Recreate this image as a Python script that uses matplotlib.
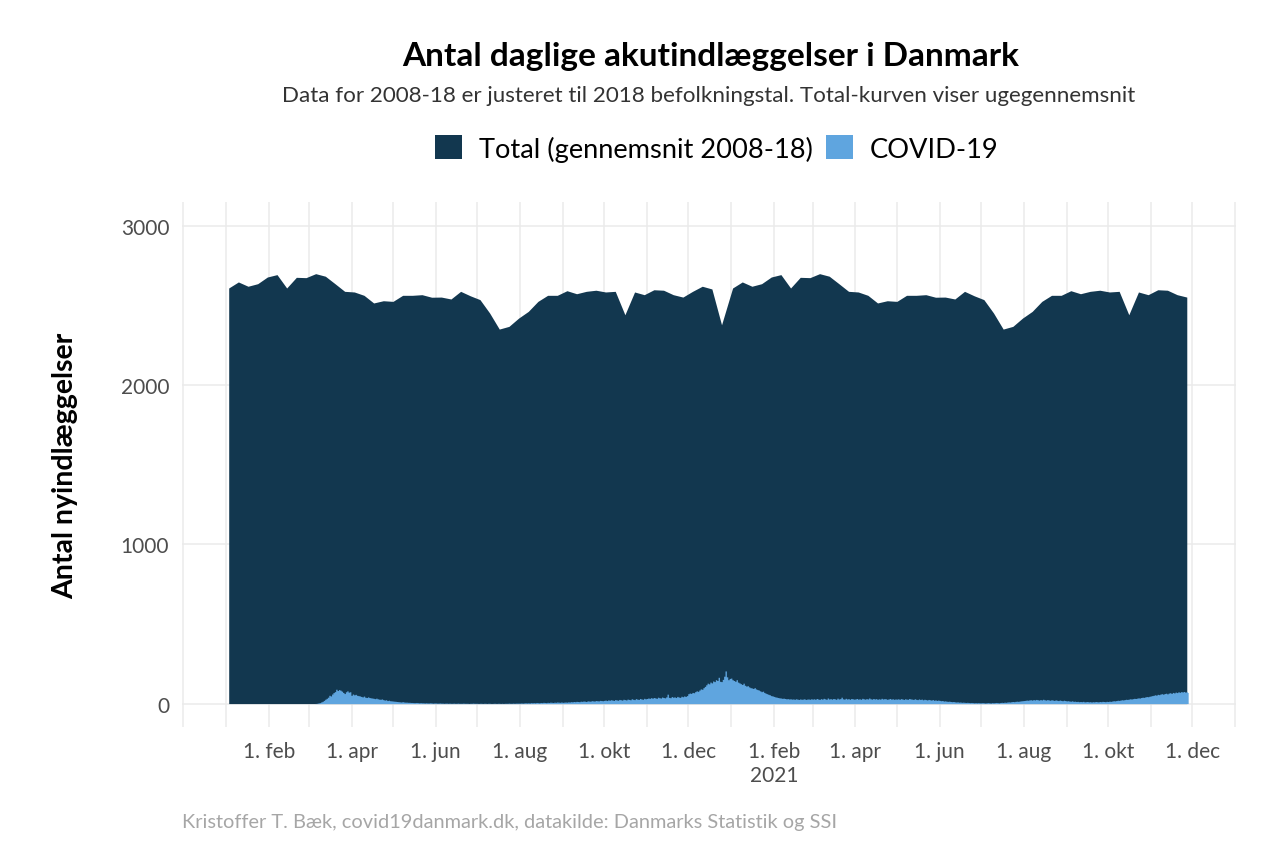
import datetime as dt
import numpy as np
import matplotlib
matplotlib.use("Agg")
import matplotlib.pyplot as plt
import matplotlib.dates as mdates
from matplotlib.patches import Patch

plt.rcParams['font.family'] = ['Lato', 'DejaVu Sans']

# weekly average of acute admissions 2008-18 (week 1..52)
total_weekly = [2610, 2648, 2621, 2637, 2679, 2694, 2610, 2677, 2675, 2700,
                2684, 2637, 2589, 2585, 2564, 2516, 2530, 2526, 2564, 2564,
                2568, 2552, 2553, 2541, 2589, 2561, 2537, 2453, 2352, 2369,
                2421, 2463, 2526, 2564, 2564, 2593, 2574, 2589, 2596, 2585,
                2589, 2442, 2585, 2568, 2599, 2596, 2568, 2553, 2589, 2621,
                2604, 2379]
weeks_2021 = 48

# daily COVID-19 admissions, 1 Mar 2020 - 31 Dec 2020
covid_2020 = [
    0, 0, 0, 0, 0, 1, 2, 4, 6, 10, 14, 20, 27, 33, 40, 52, 48, 60, 69, 75, 90, 82, 88, 84, 78, 70, 63, 74, 80, 72, 74,  # mar
    52, 60, 55, 58, 52, 50, 48, 45, 42, 47, 40, 38, 42, 38, 36, 35, 33, 31, 34, 30, 28, 27, 29, 25, 22, 24, 19, 21, 18, 17,  # apr
    16, 15, 14, 13, 12, 11, 10, 12, 10, 9, 9, 8, 8, 7, 7, 6, 6, 7, 6, 5, 6, 5, 5, 4, 5, 4, 4, 5, 4, 3, 4,  # maj
    4, 3, 3, 4, 3, 3, 2, 3, 3, 2, 3, 2, 2, 3, 2, 2, 3, 2, 2, 2, 3, 2, 2, 2, 1, 2, 2, 3, 2, 2,  # jun
    2, 1, 2, 2, 1, 2, 2, 1, 2, 2, 1, 1, 2, 2, 1, 2, 2, 1, 2, 1, 2, 2, 2, 3, 2, 2, 3, 2, 3, 3, 3,  # jul
    3, 4, 3, 4, 5, 4, 5, 4, 6, 5, 6, 5, 7, 6, 5, 7, 6, 8, 7, 6, 8, 7, 9, 8, 7, 9, 8, 10, 9, 8, 10,  # aug
    8, 9, 10, 9, 11, 10, 12, 11, 13, 12, 14, 13, 12, 15, 14, 16, 15, 13, 17, 16, 15, 18, 17, 16, 19, 18, 17, 20, 19, 18,  # sep
    20, 22, 19, 23, 21, 24, 22, 20, 25, 23, 21, 26, 24, 22, 27, 25, 23, 28, 26, 24, 30, 27, 25, 31, 28, 26, 32, 29, 27, 33, 30,  # okt
    32, 35, 33, 37, 34, 38, 36, 33, 40, 37, 35, 41, 38, 36, 42, 59, 39, 37, 44, 40, 42, 38, 45, 41, 39, 46, 43, 48, 45, 50,  # nov
    62, 66, 64, 70, 68, 75, 80, 77, 85, 92, 90, 100, 108, 118, 128, 124, 135, 130, 142, 138, 150, 145, 165, 140, 138, 152, 172, 205, 168, 150, 158,  # dec
]
# daily COVID-19 admissions, 1 Jan 2021 - 28 Nov 2021
covid_2021 = [
    160, 150, 145, 140, 150, 135, 130, 125, 120, 128, 115, 110, 112, 105, 100, 98, 95, 100, 92, 88, 85, 80, 75, 78, 70, 65, 62, 58, 55, 50, 48,  # jan
    45, 42, 40, 38, 36, 35, 33, 34, 32, 30, 31, 29, 30, 28, 29, 27, 30, 28, 26, 29, 27, 28, 30, 26, 28, 29, 27, 30,  # feb
    28, 30, 27, 32, 29, 26, 31, 28, 33, 30, 27, 35, 29, 31, 28, 32, 30, 27, 34, 29, 31, 40, 30, 28, 33, 29, 31, 27, 32, 30, 28,  # mar
    29, 32, 28, 30, 27, 33, 30, 28, 31, 29, 35, 30, 28, 32, 29, 31, 27, 30, 28, 33, 29, 31, 30, 27, 29, 32, 28, 30, 27, 29,  # apr
    28, 30, 27, 31, 29, 26, 30, 28, 27, 32, 29, 28, 26, 30, 27, 25, 29, 26, 28, 24, 27, 25, 23, 26, 24, 22, 25, 21, 23, 20, 22,  # maj
    20, 18, 19, 16, 17, 15, 14, 15, 13, 12, 13, 11, 10, 11, 9, 10, 8, 9, 8, 7, 8, 7, 6, 7, 6, 5, 6, 5, 6, 5,  # jun
    5, 6, 5, 4, 5, 6, 5, 4, 6, 5, 6, 7, 6, 5, 7, 8, 7, 9, 8, 10, 11, 10, 12, 13, 12, 14, 15, 14, 16, 17, 18,  # jul
    19, 20, 22, 21, 23, 24, 22, 25, 23, 26, 24, 22, 25, 23, 27, 24, 22, 25, 23, 21, 24, 22, 20, 23, 21, 19, 22, 20, 18, 21, 19,  # aug
    17, 18, 16, 15, 17, 14, 15, 13, 14, 12, 13, 12, 14, 11, 12, 13, 11, 12, 10, 12, 11, 13, 12, 11, 13, 12, 14, 13, 12, 14,  # sep
    13, 15, 14, 16, 18, 17, 19, 21, 20, 22, 24, 23, 25, 27, 26, 28, 30, 29, 31, 33, 32, 34, 36, 35, 38, 40, 39, 42, 44, 43, 46,  # okt
    48, 50, 52, 55, 53, 58, 56, 60, 62, 59, 63, 65, 61, 66, 68, 64, 70, 67, 72, 69, 74, 71, 75, 73, 76, 72, 74, 70,  # nov
]

month_names = ['jan', 'feb', 'mar', 'apr', 'maj', 'jun', 'jul', 'aug', 'sep', 'okt', 'nov', 'dec']

dark = '#12374f'
light = '#5fa5df'

# weekly points for both years
t_dates = [dt.date(2020, 1, 3) + dt.timedelta(days=7 * i) for i in range(52)]
t_dates += [dt.date(2021, 1, 2) + dt.timedelta(days=7 * i) for i in range(weeks_2021)]
t_vals = total_weekly + total_weekly[:weeks_2021]

covid = covid_2020 + covid_2021
c_dates = [dt.date(2020, 3, 1) + dt.timedelta(days=i) for i in range(len(covid))]

fig = plt.figure(figsize=(12.8, 8.53), dpi=100)
ax = fig.add_axes([0.142, 0.146, 0.824, 0.616])

ax.fill_between(t_dates, 0, t_vals, color=dark, lw=0)
ax.fill_between(c_dates, 0, covid, color=light, lw=0, step='mid')

ax.set_xlim(dt.date(2019, 11, 30), dt.date(2022, 1, 2))
ax.set_ylim(-150, 3150)
ax.set_yticks([0, 1000, 2000, 3000])

major = [dt.date(y, m, 1) for y in (2020, 2021) for m in (2, 4, 6, 8, 10, 12)]
minor = [dt.date(2019, 12, 1)] + [dt.date(y, m, 1) for y in (2020, 2021) for m in (1, 3, 5, 7, 9, 11)] + [dt.date(2022, 1, 1)]
labels = []
for d in major:
    s = '1. ' + month_names[d.month - 1]
    if d == dt.date(2021, 2, 1):
        s += '\n2021'
    labels.append(s)
ax.set_xticks(major)
ax.set_xticklabels(labels)
ax.set_xticks(minor, minor=True)

ax.grid(True, which='both', color='#ebebeb', lw=1.1)
ax.set_axisbelow(True)
ax.tick_params(which='both', length=0)
ax.tick_params(axis='both', labelsize=15, labelcolor='#4d4d4d')
ax.tick_params(axis='x', pad=10)
ax.tick_params(axis='y', pad=9)
for s in ax.spines.values():
    s.set_visible(False)

ax.set_ylabel('Antal nyindlæggelser', fontsize=20.5, fontweight='bold', labelpad=31)

fig.text(0.555, 0.934, 'Antal daglige akutindlæggelser i Danmark', ha='center', va='center',
         fontsize=24, fontweight='bold')
fig.text(0.554, 0.887, 'Data for 2008-18 er justeret til 2018 befolkningstal. Total-kurven viser ugegennemsnit',
         ha='center', va='center', fontsize=16.1, color='#333333')
fig.text(0.142, 0.036, 'Kristoffer T. Bæk, covid19danmark.dk, datakilde: Danmarks Statistik og SSI',
         ha='left', va='center', fontsize=14.4, color='#a6a6a6')

handles = [Patch(facecolor=dark, label='Total (gennemsnit 2008-18)'),
           Patch(facecolor=light, label='COVID-19')]
fig.legend(handles=handles, loc='center', bbox_to_anchor=(0.56, 0.825), ncol=2, frameon=False,
           fontsize=19.6, handlelength=1.0, handleheight=1.0, handletextpad=0.6, columnspacing=0.5)

fig.savefig('out.png', dpi=100, facecolor='white')
